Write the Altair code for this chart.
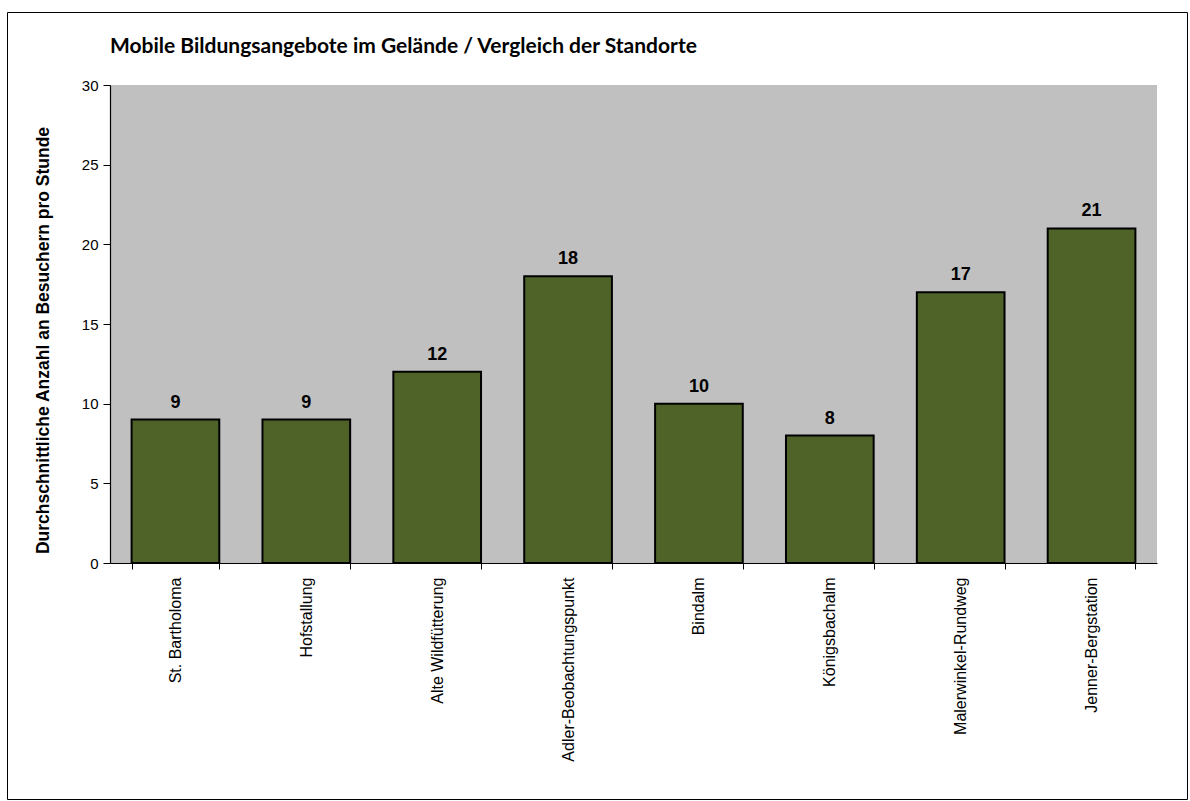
import altair as alt
import pandas as pd

standorte = ["St. Bartholoma", "Hofstallung", "Alte Wildfütterung", "Adler-Beobachtungspunkt",
             "Bindalm", "Königsbachalm", "Malerwinkel-Rundweg", "Jenner-Bergstation"]
werte = [9, 9, 12, 18, 10, 8, 17, 21]
y_ticks = [0, 5, 10, 15, 20, 25, 30]
titel = "Mobile Bildungsangebote im Gelände / Vergleich der Standorte"

df = pd.DataFrame({"Standort": standorte, "Wert": werte})

x_enc = alt.X("Standort:N", sort=standorte,
              scale=alt.Scale(paddingInner=0.33, paddingOuter=0.165),
              axis=alt.Axis(title=None, labelAngle=270, labelAlign="right", labelBaseline="middle",
                            labelFont="Liberation Sans", labelFontSize=16, labelColor="black",
                            labelPadding=8, tickBand="extent", tickSize=6, tickColor="black",
                            domainColor="black", domainWidth=1.2, labelLimit=300))
y_enc = alt.Y("Wert:Q", scale=alt.Scale(domain=[0, 30]),
              axis=alt.Axis(values=y_ticks, grid=False, title="Durchschnittliche  Anzahl an Besuchern pro Stunde",
                            titleFont="Liberation Sans", titleFontSize=17.5, titleFontWeight="bold",
                            titleColor="black", titleAngle=270, titleX=-67, titleY=255,
                            titleBaseline="middle", titleAlign="center",
                            labelFont="Liberation Sans", labelFontSize=15, labelColor="black",
                            labelPadding=5, tickSize=7, tickColor="black", domainColor="black",
                            domainWidth=1.2))

bars = alt.Chart(df).mark_bar(color="#4F6228", stroke="black", strokeWidth=2).encode(x=x_enc, y=y_enc)
labels = alt.Chart(df).mark_text(font="Liberation Sans", fontSize=18, fontWeight="bold",
                                 baseline="alphabetic", dy=-12, color="black").encode(
    x=alt.X("Standort:N", sort=standorte), y="Wert:Q", text="Wert:Q")

single = pd.DataFrame({"a": [0]})
frame = alt.Chart(single).mark_rect(fill=None, stroke="black", strokeWidth=1, clip=False).encode(
    x=alt.value(-102.5), x2=alt.value(1077.5), y=alt.value(-72.5), y2=alt.value(714.5))
title_mark = alt.Chart(single).mark_text(font="Lato", fontSize=21, fontWeight="bold", color="black",
                                         align="left", baseline="alphabetic", clip=False).encode(
    x=alt.value(0), y=alt.value(-32), text=alt.value(titel))

chart = alt.layer(frame, bars, labels, title_mark).properties(
    width=1047, height=478,
    padding={"left": 110, "top": 85, "right": 33, "bottom": 238},
    autosize=alt.AutoSizeParams(type="none"),
    background="white",
).configure_view(fill="#C0C0C0", stroke=None)

chart.save("out.html", embed_options={"renderer": "svg", "actions": False})
